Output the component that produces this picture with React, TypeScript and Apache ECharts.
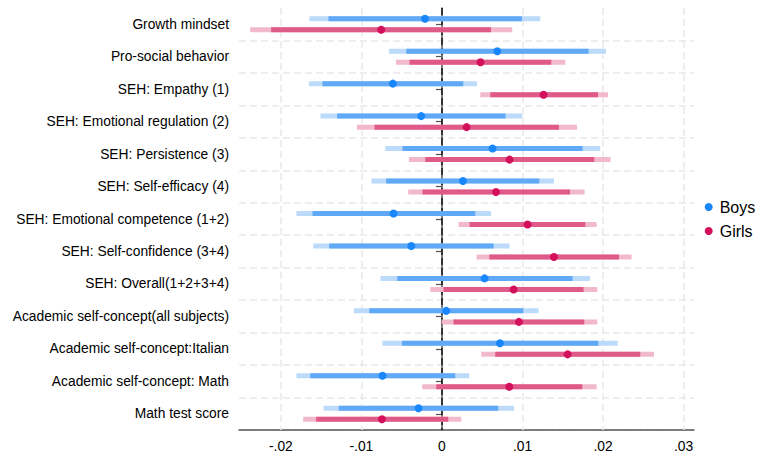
import React, { useEffect, useRef } from "react";
import * as echarts from "echarts";

const categories = [
  "Growth mindset",
  "Pro-social behavior",
  "SEH: Empathy (1)",
  "SEH: Emotional regulation (2)",
  "SEH: Persistence (3)",
  "SEH: Self-efficacy (4)",
  "SEH: Emotional competence (1+2)",
  "SEH: Self-confidence (3+4)",
  "SEH: Overall(1+2+3+4)",
  "Academic self-concept(all subjects)",
  "Academic self-concept:Italian",
  "Academic self-concept: Math",
  "Math test score",
];

// [outer low, inner low, estimate, inner high, outer high]
const boys = [
  [-0.01645, -0.01409, -0.00211, 0.00994, 0.01221],
  [-0.00658, -0.00443, 0.00687, 0.01821, 0.02037],
  [-0.01652, -0.01483, -0.00609, 0.00265, 0.00435],
  [-0.01508, -0.01301, -0.00257, 0.0079, 0.00998],
  [-0.00704, -0.00489, 0.00629, 0.01747, 0.01966],
  [-0.00875, -0.00692, 0.00261, 0.01209, 0.01391],
  [-0.01806, -0.01607, -0.00601, 0.00414, 0.00609],
  [-0.01599, -0.014, -0.00381, 0.00641, 0.0084],
  [-0.00763, -0.00555, 0.00529, 0.01622, 0.01838],
  [-0.01093, -0.00903, 0.00053, 0.0101, 0.012],
  [-0.00738, -0.00497, 0.0072, 0.01942, 0.02182],
  [-0.01806, -0.01636, -0.00738, 0.00165, 0.00339],
  [-0.01471, -0.0128, -0.00291, 0.00699, 0.00894],
];

const girls = [
  [-0.02381, -0.02121, -0.00754, 0.00609, 0.00873],
  [-0.00571, -0.00402, 0.0048, 0.01358, 0.01532],
  [0.00476, 0.006, 0.01262, 0.01938, 0.02062],
  [-0.01056, -0.00837, 0.00306, 0.01453, 0.01677],
  [-0.0041, -0.00207, 0.0084, 0.01892, 0.02094],
  [-0.00419, -0.00241, 0.00671, 0.0159, 0.01771],
  [0.00206, 0.00343, 0.01063, 0.0178, 0.0192],
  [0.0043, 0.00588, 0.01391, 0.02199, 0.02355],
  [-0.00145, 0.0002, 0.0089, 0.01759, 0.01929],
  [-0.00005, 0.00144, 0.00956, 0.01768, 0.01929],
  [0.00488, 0.00662, 0.01561, 0.02463, 0.02634],
  [-0.00245, -0.00071, 0.00836, 0.01743, 0.01921],
  [-0.01723, -0.01562, -0.00745, 0.00078, 0.0024],
];

const xTicks = [-0.02, -0.01, 0, 0.01, 0.02, 0.03];
const gridTicks = [-0.02, -0.01, 0.01, 0.02, 0.03];

const FONT = "'Liberation Sans', Arial, sans-serif";

const fmt = (v: number) => {
  if (Math.abs(v) < 1e-12) return "0";
  const s = Math.abs(v).toFixed(2).replace(/^0/, "");
  return (v < 0 ? "-" : "") + s;
};

function makeSeries(
  name: string,
  rows: number[][],
  offsetFrac: number,
  dot: string,
  inner: string,
  outer: string
) {
  return {
    name,
    type: "custom",
    z: 5,
    itemStyle: { color: dot },
    encode: { x: [0, 1, 2, 3, 4], y: 5 },
    data: rows.map((r, i) => [...r, i]),
    renderItem: (params: any, api: any) => {
      const cat = api.value(5);
      const band = api.size([0, 1])[1];
      const dy = band * offsetFrac;
      const p = (k: number) => api.coord([api.value(k), cat]);
      const o1 = p(0), i1 = p(1), e = p(2), i2 = p(3), o2 = p(4);
      const y = e[1] + dy;
      return {
        type: "group",
        children: [
          {
            type: "line",
            shape: { x1: o1[0], y1: y, x2: o2[0], y2: y },
            style: { stroke: outer, lineWidth: 5, lineCap: "butt" },
          },
          {
            type: "line",
            shape: { x1: i1[0], y1: y, x2: i2[0], y2: y },
            style: { stroke: inner, lineWidth: 5, lineCap: "butt" },
          },
          {
            type: "circle",
            shape: { cx: e[0], cy: y, r: 4 },
            style: { fill: dot },
          },
        ],
      };
    },
  };
}

export default function App() {
  const ref = useRef<HTMLDivElement>(null);
  useEffect(() => {
    if (!ref.current) return;
    const chart = echarts.init(ref.current, null, { renderer: "svg" });
    chart.setOption({
      animation: false,
      backgroundColor: "#ffffff",
      textStyle: { fontFamily: FONT },
      grid: { left: 239, right: 67, top: 8, bottom: 29, containLabel: false },
      legend: {
        data: ["Boys", "Girls"],
        orient: "vertical",
        left: 704.7,
        top: 199,
        icon: "circle",
        itemWidth: 12,
        itemHeight: 8,
        itemGap: 8,
        padding: 0,
        textStyle: {
          fontSize: 16,
          color: "#000",
          fontFamily: FONT,
          overflow: "none",
          width: 60,
        },
      },
      xAxis: {
        type: "value",
        min: -0.0252,
        max: 0.0313,
        axisLine: { show: true, lineStyle: { color: "#555", width: 1.5 } },
        axisTick: { show: false },
        axisLabel: {
          customValues: xTicks,
          formatter: fmt,
          fontSize: 13.8,
          color: "#000",
          margin: 9,
          fontFamily: FONT,
        },
        splitLine: { show: false },
      },
      yAxis: {
        type: "category",
        inverse: true,
        data: categories,
        axisLine: { show: true, lineStyle: { color: "#555", width: 1.5 } },
        axisTick: {
          show: true,
          alignWithLabel: true,
          length: 6,
          lineStyle: { color: "#555", width: 1.2 },
        },
        axisLabel: { fontSize: 13.8, color: "#000", margin: 10, fontFamily: FONT },
        splitLine: {
          show: true,
          showMinLine: false,
          lineStyle: { color: "#e9e9e9", width: 1.5, type: [7, 4] },
        },
      },
      series: [
        {
          name: "grid",
          type: "line",
          data: [],
          z: 1,
          silent: true,
          markLine: {
            silent: true,
            symbol: "none",
            label: { show: false },
            lineStyle: { color: "#e9e9e9", width: 1.5, type: [7, 4] },
            data: gridTicks.map((v) => ({ xAxis: v })),
          },
        },
        makeSeries("Boys", boys, -0.17, "#1a86fc", "#5fa9f6", "#bcdaf9"),
        makeSeries("Girls", girls, 0.17, "#d3105c", "#e05a89", "#f2b9cd"),
        {
          name: "zero",
          type: "line",
          data: [],
          z: 10,
          silent: true,
          markLine: {
            silent: true,
            symbol: "none",
            label: { show: false },
            lineStyle: { color: "#222", width: 1.6, type: [7, 3] },
            data: [{ xAxis: 0 }],
          },
        },
      ],
    });
    return () => chart.dispose();
  }, []);
  return (
    <div
      ref={ref}
      style={{ position: "absolute", left: 0, top: 0, width: 761, height: 459 }}
    />
  );
}
